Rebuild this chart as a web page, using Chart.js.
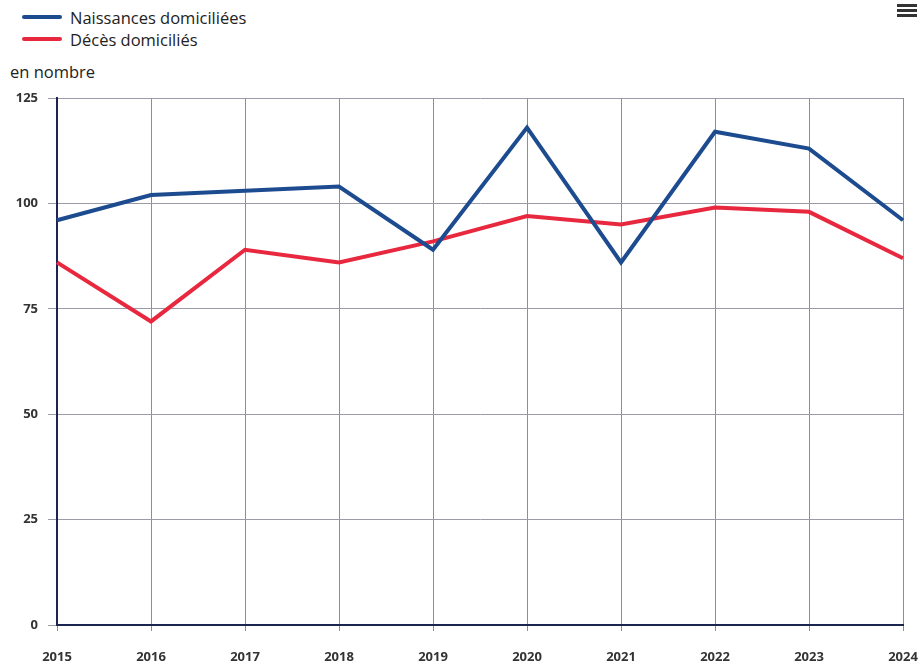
<!DOCTYPE html>
<html lang="fr">
<head>
<meta charset="utf-8">
<title>Naissances et décès domiciliés</title>
<script src="https://cdn.jsdelivr.net/npm/chart.js@4/dist/chart.umd.min.js"></script>
<style>
  html, body { margin: 0; padding: 0; background: #fff; }
  body { width: 920px; height: 669px; position: relative; overflow: hidden; font-family: 'Open Sans', 'Noto Sans', sans-serif; }
  #chart { position: absolute; left: 0; top: 0; }
  .legend { position: absolute; left: 22px; top: 6px; font-size: 16.5px; color: #222; }
  .legend div { display: flex; align-items: center; height: 22px; }
  .legend span.sw { display: inline-block; width: 40px; height: 4px; border-radius: 2px; margin-right: 8px; }
  .unit { position: absolute; left: 10px; top: 60px; font-size: 16.5px; color: #222; }
  .menu { position: absolute; left: 897px; top: 4px; width: 20px; }
  .menu i { display: block; height: 3px; background: #333; margin-bottom: 2px; }
</style>
</head>
<body>
<div class="legend">
  <div><span class="sw" style="background:#1d4b8f"></span>Naissances domiciliées</div>
  <div><span class="sw" style="background:#e8283e"></span>Décès domiciliés</div>
</div>
<div class="unit">en nombre</div>
<div class="menu"><i></i><i></i><i></i></div>
<canvas id="chart" width="920" height="669"></canvas>
<script>
// --- Data ---
const years = ['2015', '2016', '2017', '2018', '2019', '2020', '2021', '2022', '2023', '2024'];
const naissances = [96, 102, 103, 104, 89, 118, 86, 117, 113, 96];
const deces = [86, 72, 89, 86, 91, 97, 95, 99, 98, 87];
const yTicks = [0, 25, 50, 75, 100, 125];

// --- Chart ---
const ctx = document.getElementById('chart');

new Chart(ctx, {
  type: 'line',
  data: {
    labels: years,
    datasets: [
      {
        label: 'Naissances domiciliées',
        data: naissances,
        borderColor: '#1d4b8f',
        borderWidth: 4,
        pointRadius: 0,
        tension: 0,
      },
      {
        label: 'Décès domiciliés',
        data: deces,
        borderColor: '#e8283e',
        borderWidth: 4,
        pointRadius: 0,
        tension: 0,
      },
    ],
  },
  options: {
    responsive: false,
    animation: false,
    layout: { padding: { top: 98, right: 17, left: 0, bottom: 0 } },
    plugins: {
      legend: { display: false },
      tooltip: { enabled: false },
    },
    scales: {
      x: {
        offset: false,
        grid: { color: '#8c8c9c', lineWidth: 1, tickLength: 6 },
        border: { color: '#1a2550', width: 2 },
        ticks: {
          color: '#333',
          font: { family: "'Open Sans', sans-serif", size: 13, weight: 'bold' },
          maxRotation: 0,
          padding: 18,
        },
        afterFit: s => { s.height = 44; s.paddingLeft = 0; s.paddingRight = 0; },
      },
      y: {
        min: yTicks[0],
        max: yTicks[yTicks.length - 1],
        afterBuildTicks: s => { s.ticks = yTicks.map(v => ({ value: v })); },
        grid: { color: '#9a9aa8', lineWidth: 1, tickLength: 9 },
        border: { color: '#1a2550', width: 2 },
        ticks: {
          color: '#333',
          font: { family: "'Open Sans', sans-serif", size: 13, weight: 'bold' },
          padding: 10,
        },
        afterFit: s => { s.width = 57; s.paddingTop = 0; s.paddingBottom = 0; },
      },
    },
  },
});
</script>
</body>
</html>
